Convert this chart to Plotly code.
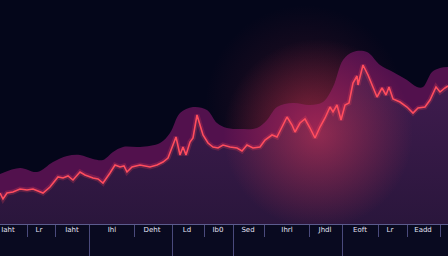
import plotly.graph_objects as go

# ---- data ----
line_x = [0, 3, 7, 13, 20, 27, 33, 40, 43, 50, 58, 63, 68, 73, 80, 85, 93, 98, 103, 110,
          115, 120, 124, 127, 132, 140, 150, 157, 163, 168, 172, 176, 180, 183, 186, 190,
          193, 197, 200, 203, 208, 213, 218, 223, 230, 237, 242, 247, 253, 260, 265, 272,
          277, 282, 287, 292, 295, 300, 305, 310, 315, 320, 325, 330, 333, 337, 341, 345,
          349, 353, 357, 358, 363, 368, 373, 377, 382, 386, 389, 393, 400, 407, 413, 418,
          425, 430, 436, 440, 445, 448]
line_py = [193, 199, 193, 192, 189, 190, 189, 192, 193, 187, 177, 178, 176, 180, 172, 175,
           178, 179, 183, 173, 165, 167, 166, 172, 167, 165, 167, 165, 162, 158, 147, 137,
           155, 147, 155, 142, 138, 115, 125, 135, 143, 147, 148, 145, 147, 148, 151, 145,
           148, 147, 140, 135, 137, 127, 117, 125, 132, 123, 119, 128, 138, 127, 118, 107,
           112, 105, 120, 105, 103, 83, 76, 85, 65, 75, 87, 97, 88, 95, 87, 99, 102, 107,
           113, 108, 107, 100, 87, 92, 88, 86]

env_x = [0, 20, 37, 53, 67, 80, 93, 103, 113, 123, 140, 160, 170, 180, 193, 207, 217,
         227, 240, 257, 267, 277, 293, 310, 323, 333, 343, 353, 367, 380, 393, 407, 417,
         423, 432, 440, 448]
env_py = [174, 168, 172, 162, 156, 155, 159, 160, 152, 147, 147, 143, 133, 113, 107, 110,
          123, 128, 129, 128, 120, 107, 103, 105, 102, 87, 60, 52, 52, 65, 72, 80, 87, 87,
          72, 68, 67]

BASE = 224  # axis baseline (pixel row)
line_y = [BASE - v for v in line_py]
env_y = [BASE - v for v in env_py]

long_ticks = [89, 172, 233, 342]
short_ticks = [27, 55, 134, 204, 264, 309, 378, 407, 440]
label_pos = [8, 39, 72, 112, 152, 187, 218, 248, 287, 325, 360, 390, 423]
label_text = ["Iaht", "Lr", "Iaht", "Ihl", "Deht", "Ld", "Ib0", "Sed", "Ihrl", "Jhdl",
              "Eoft", "Lr", "Eadd"]

glow_x = [318]
glow_y = [BASE - 134]

fig = go.Figure()

# faint halo behind everything
fig.add_trace(go.Scatter(
    x=[305], y=[BASE - 105], mode="markers",
    marker=dict(size=200, color="rgba(200,50,70,0)", line=dict(width=0),
                gradient=dict(type="radial", color="rgba(200,50,70,0.2)")),
    hoverinfo="skip", showlegend=False))

# upper smooth envelope band
fig.add_trace(go.Scatter(
    x=env_x, y=env_y, mode="lines", line=dict(width=0, shape="spline", smoothing=1.0),
    fill="tozeroy", fillcolor="rgba(86,18,80,0.95)", hoverinfo="skip", showlegend=False))

# area under the line
fig.add_trace(go.Scatter(
    x=line_x, y=line_y, mode="lines", line=dict(width=0),
    fill="tozeroy",
    fillgradient=dict(type="vertical",
                      colorscale=[[0, "rgb(42,22,60)"], [1, "rgb(66,28,80)"]]),
    hoverinfo="skip", showlegend=False))

# radial glow (gradient.color is the centre colour for radial gradients)
fig.add_trace(go.Scatter(
    x=glow_x, y=glow_y, mode="markers",
    marker=dict(size=190, color="rgba(230,55,85,0)", line=dict(width=0),
                gradient=dict(type="radial", color="rgba(235,60,90,0.5)")),
    hoverinfo="skip", showlegend=False))

# line glow + line
fig.add_trace(go.Scatter(
    x=line_x, y=line_y, mode="lines", line=dict(color="rgba(255,70,90,0.22)", width=5),
    hoverinfo="skip", showlegend=False))
fig.add_trace(go.Scatter(
    x=line_x, y=line_y, mode="lines", line=dict(color="#ff4d5e", width=1.6),
    hoverinfo="skip", showlegend=False))

# dummy trace for second x axis (labels)
fig.add_trace(go.Scatter(x=[0, 448], y=[0, 0], xaxis="x2", mode="lines",
                         line=dict(width=0), hoverinfo="skip", showlegend=False))

fig.update_layout(
    width=448, height=256, margin=dict(l=0, r=0, t=0, b=0),
    paper_bgcolor="#090a20", plot_bgcolor="#04061a",
    xaxis=dict(range=[0, 448], showgrid=False, zeroline=False, showline=True,
               linecolor="#5c5c8e", linewidth=1, ticks="outside", tickvals=long_ticks,
               ticklen=32, tickcolor="#4a4a7c", tickwidth=1, showticklabels=False,
               minor=dict(tickmode="array", tickvals=short_ticks, ticks="outside",
                          ticklen=12, tickcolor="#4a4a7c", tickwidth=1, showgrid=False)),
    xaxis2=dict(range=[0, 448], overlaying="x", anchor="y", side="bottom",
                showgrid=False, zeroline=False, showline=False, ticks="",
                tickvals=label_pos, ticktext=label_text,
                tickfont=dict(size=7, color="#e2e2f4", family="DejaVu Sans")),
    yaxis=dict(domain=[32 / 256, 1], range=[0, 224], showgrid=False, zeroline=False,
               showticklabels=False, showline=False),
)

fig.write_html("out.html")
